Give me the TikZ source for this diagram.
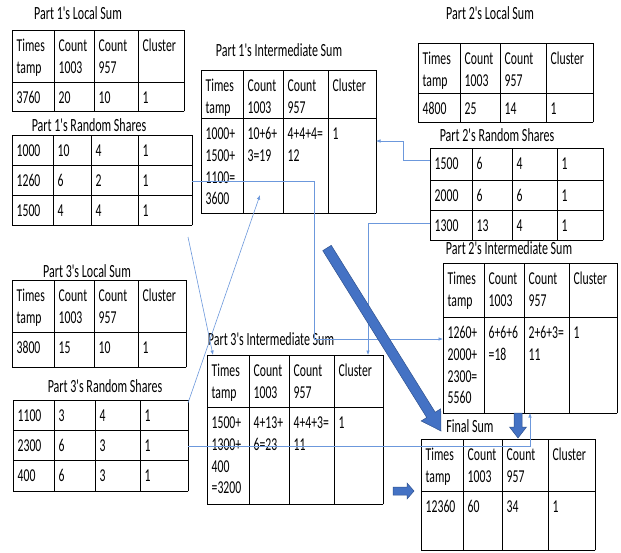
\documentclass[tikz,border=0pt]{standalone}
\usepackage{fontspec}
\setmainfont{Carlito}
\usepackage{graphicx}
\usetikzlibrary{arrows.meta,calc}
\definecolor{thinblue}{HTML}{6C98DC}
\definecolor{blk}{HTML}{4472C4}
\definecolor{blkd}{HTML}{2F528F}
\newcommand\ct[1]{\scalebox{1}[1.55]{\begin{tabular}{@{}l@{}}#1\end{tabular}}}
\newcommand\ttl[1]{\scalebox{1}[1.55]{#1}}
\newcommand\ap{\textquotesingle}
\newcommand\tgrid[6]{%
  \foreach \xx in {#1}{\draw[tbl] (\xx,#5) -- (\xx,#6);}%
  \foreach \yy in {#2}{\draw[tbl] (#3,\yy) -- (#4,\yy);}}
\newcommand\trow[3]{%
  \foreach \xx/\celltxt [count=\ii] in {#3}{\node[cell] (#1-\ii) at (\xx+4.5,#2+6.5) {\ct{\celltxt}};}}
\newcommand\blkarrow[6]{%
  \coordinate (#1-s) at #2; \coordinate (#1-t) at #3;
  \coordinate (#1-h) at ($(#1-t)!#6!(#1-s)$);
  \filldraw[bigarrow] ($(#1-s)!#4!90:(#1-t)$) -- ($(#1-h)!#4!90:(#1-t)$) -- ($(#1-h)!#5!90:(#1-t)$)
    -- (#1-t) -- ($(#1-h)!#5!-90:(#1-t)$) -- ($(#1-h)!#4!-90:(#1-t)$) -- ($(#1-s)!#4!-90:(#1-t)$) -- cycle;}
\begin{document}
\begin{tikzpicture}[x=1pt,y=-1pt,
  tbl/.style={draw=black,line width=0.9pt,line cap=rect},
  cell/.style={anchor=north west,inner sep=0pt,font=\fontsize{11.7}{14}\selectfont},
  title/.style={anchor=base,inner sep=0pt,font=\fontsize{12}{14}\selectfont},
  conn/.style={draw=thinblue,line width=0.6pt,-{Latex[length=4.5pt,width=3.5pt]}},
  bigarrow/.style={fill=blk,draw=blkd,line width=0.5pt}]
\fill[white] (0,0) rectangle (621,552);
\useasboundingbox (0,0) rectangle (621,552);

% ---------- Titles
\node[title] (ttl1) at (78,19) {\ttl{Part 1\ap s Local Sum}};
\node[title] (ttl2) at (89,131) {\ttl{Part 1\ap s Random Shares}};
\node[title] (ttl3) at (279,56) {\ttl{Part 1\ap s Intermediate Sum}};
\node[title] (ttl4) at (490,19) {\ttl{Part 2\ap s Local Sum}};
\node[title] (ttl5) at (497,141) {\ttl{Part 2\ap s Random Shares}};
\node[title] (ttl6) at (509,254) {\ttl{Part 2\ap s Intermediate Sum}};
\node[title] (ttl7) at (87,277) {\ttl{Part 3\ap s Local Sum}};
\node[title] (ttl8) at (105,392) {\ttl{Part 3\ap s Random Shares}};
\node[title] (ttl9) at (271,345) {\ttl{Part 3\ap s Intermediate Sum}};
\node[title] (ttl10) at (470,432) {\ttl{Final Sum}};

% ---------- T1 Part 1 local sum
\tgrid{12,54,94,138,184}{30,82,111}{12}{184}{30}{111}
\trow{t1a}{30}{12/{Times\\tamp},54/{Count\\1003},94/{Count\\957},138/Cluster}
\trow{t1b}{82}{12/3760,54/20,94/10,138/1}

% ---------- T2 Part 1 random shares
\tgrid{12,53,91,138,192}{135,165,195,225}{12}{192}{135}{225}
\trow{t2a}{135}{12/1000,53/10,91/4,138/1}
\trow{t2b}{165}{12/1260,53/6,91/2,138/1}
\trow{t2c}{195}{12/1500,53/4,91/4,138/1}

% ---------- T3 Part 1 intermediate sum
\tgrid{201,243,283,328,376}{70,118,213}{201}{376}{70}{213}
\trow{t3a}{70}{201/{Times\\tamp},243/{Count\\1003},283/{Count\\957},328/Cluster}
\trow{t3b}{118}{201/{1000+\\1500+\\1100=\\3600},243/{10+6+\\3=19},283/{4+4+4=\\12},328/1}

% ---------- T4 Part 2 local sum
\tgrid{418,460,500,546,593}{43,93,122}{418}{593}{43}{122}
\trow{t4a}{43}{418/{Times\\tamp},460/{Count\\1003},500/{Count\\957},546/Cluster}
\trow{t4b}{93}{418/4800,460/25,500/14,546/1}

% ---------- T5 Part 2 random shares
\tgrid{430,472,512,557,603}{148,180,210,240}{430}{603}{148}{240}
\trow{t5a}{148}{430/1500,472/6,512/4,557/1}
\trow{t5b}{180}{430/2000,472/6,512/6,557/1}
\trow{t5c}{210}{430/1300,472/13,512/4,557/1}

% ---------- T6 Part 2 intermediate sum
\tgrid{443,484,524,569,617}{263,317,413}{443}{617}{263}{413}
\trow{t6a}{263}{443/{Times\\tamp},484/{Count\\1003},524/{Count\\957},569/Cluster}
\trow{t6b}{317}{443/{1260+\\2000+\\2300=\\5560},484/{6+6+6\\=18},524/{2+6+3=\\11},569/1}

% ---------- T7 Part 3 local sum
\tgrid{12,54,94,138,186}{280,332,367}{12}{186}{280}{367}
\trow{t7a}{280}{12/{Times\\tamp},54/{Count\\1003},94/{Count\\957},138/Cluster}
\trow{t7b}{332}{12/3800,54/15,94/10,138/1}

% ---------- T8 Part 3 random shares
\tgrid{13,54,95,140,188}{400,430,460,491}{13}{188}{400}{491}
\trow{t8a}{400}{13/1100,54/3,95/4,140/1}
\trow{t8b}{430}{13/2300,54/6,95/3,140/1}
\trow{t8c}{460}{13/400,54/6,95/3,140/1}

% ---------- T9 Part 3 intermediate sum
\tgrid{207,249,289,334,383}{355,407,504}{207}{383}{355}{504}
\trow{t9a}{355}{207/{Times\\tamp},249/{Count\\1003},289/{Count\\957},334/Cluster}
\trow{t9b}{407}{207/{1500+\\1300+\\400\\=3200},249/{4+13+\\6=23},289/{4+4+3=\\11},334/1}

% ---------- T10 Final sum
\tgrid{421,463,502,548,595}{439,491,550}{421}{595}{439}{550}
\trow{t10a}{439}{421/{Times\\tamp},463/{Count\\1003},502/{Count\\957},548/Cluster}
\trow{t10b}{491}{421/12360,463/60,502/34,548/1}

% ---------- thin connectors
\coordinate (c1s) at (192,181); \coordinate (c1e) at (443,339);
\coordinate (c2s) at (430,160); \coordinate (c2e) at (376,141);
\coordinate (c3s) at (430,223); \coordinate (c3e) at (368,355);
\coordinate (c4s) at (188,237); \coordinate (c4e) at (213,355);
\coordinate (c5s) at (188,403); \coordinate (c5e) at (260,195);
\coordinate (c6s) at (188,446); \coordinate (c6e) at (530,413);
\draw[conn] (c1s) -- (314,181) -- (314,339) -- (c1e);
\draw[conn] (c2s) -- (403,160) -- (403,141) -- (c2e);
\draw[conn] (c3s) -- (368,223) -- (c3e);
\draw[conn] (c4s) -- (c4e);
\draw[conn] (c5s) -- (c5e);
\draw[conn] (c6s) -- (530,446) -- (c6e);

% ---------- block arrows
\blkarrow{a1}{(327,248)}{(441,431)}{5pt}{11.5pt}{19pt}
\blkarrow{a2}{(518,413)}{(518,438)}{4pt}{8.5pt}{11pt}
\blkarrow{a3}{(393,491)}{(414,491)}{4pt}{8pt}{7pt}
\end{tikzpicture}
\end{document}
